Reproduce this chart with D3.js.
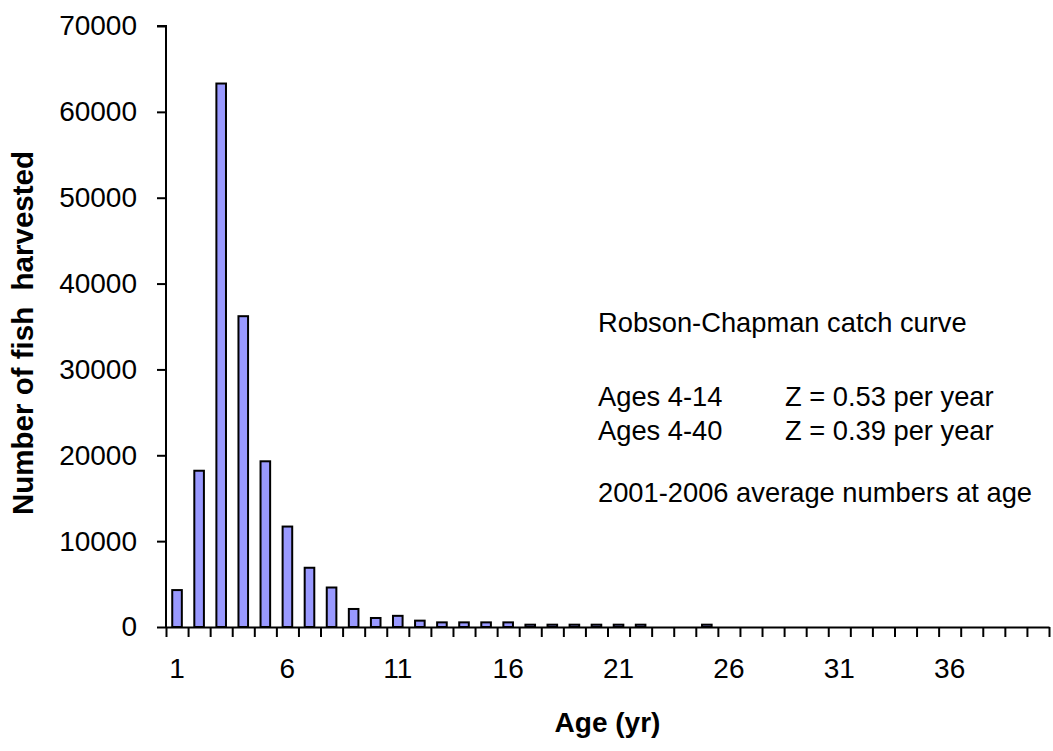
<!DOCTYPE html>
<html><head><meta charset="utf-8">
<script src="https://cdn.jsdelivr.net/npm/d3@7"></script>
<style>body{margin:0;background:#fff}svg{display:block}text{font-family:"Liberation Sans",Arial,sans-serif;fill:#000}</style>
</head><body><svg id="c" width="1053" height="751"></svg>
<script>
const ages = d3.range(1, 41);
const harvested = [4300,18200,63300,36200,19300,11700,6900,4600,2100,1050,
  1300,740,540,540,540,540,270,270,270,270,
  270,270,0,0,270,0,0,0,0,0,
  0,0,0,0,0,0,0,0,0,0];
const yTicks = [0,10000,20000,30000,40000,50000,60000,70000];
const xLabels = [1,6,11,16,21,26,31,36];
const notes = [
  {t:"Robson-Chapman catch curve", col:0, row:0},
  {t:"Ages 4-14", col:0, row:1},
  {t:"Z = 0.53 per year", col:1, row:1},
  {t:"Ages 4-40", col:0, row:2},
  {t:"Z = 0.39 per year", col:1, row:2},
  {t:"2001-2006 average numbers at age", col:0, row:3}
];

const svg = d3.select("#c");
const L = 166, R = 1049, T = 26, B = 627;
const y = d3.scaleLinear().domain([0,70000]).range([B,T]);
const x = d3.scaleBand().domain(ages).range([L,R]).paddingInner(0.565).paddingOuter(0.2825);
const xb = d3.scaleLinear().domain([0.5,40.5]).range([L,R]);

// bars
svg.append("g").selectAll("rect").data(ages.map((a,i)=>({a,v:harvested[i]})).filter(d=>d.v>0))
  .join("rect")
  .attr("x", d=>x(d.a)).attr("width", x.bandwidth())
  .attr("y", d=>y(d.v)).attr("height", d=>B-y(d.v))
  .attr("fill","#9999FF").attr("stroke","#000").attr("stroke-width",2);

// y axis
const ya = svg.append("g").attr("transform",`translate(${L},0)`)
  .call(d3.axisLeft(y).tickValues(yTicks).tickFormat(d3.format("d")).tickSize(9).tickPadding(20));
ya.select(".domain").attr("stroke-width",2).attr("d",`M-9,${T}H0V${B}`);
ya.selectAll(".tick line").attr("stroke-width",2);
ya.selectAll("text").style("font-size","28px").style("font-family","'Liberation Sans',Arial,sans-serif").attr("fill","#000");

// x axis
const xa = svg.append("g").attr("transform",`translate(0,${B})`)
  .call(d3.axisBottom(xb).tickValues(d3.range(0.5,41,1)).tickFormat("").tickSize(10).tickSizeOuter(0));
xa.select(".domain").attr("stroke-width",2);
xa.selectAll(".tick line").attr("stroke-width",2);

svg.append("g").selectAll("text").data(xLabels).join("text")
  .attr("x", d=>x(d)+x.bandwidth()/2).attr("y", 678)
  .attr("text-anchor","middle").style("font-size","28px").text(d=>d);

// titles
svg.append("text").attr("x",(L+R)/2).attr("y",732).attr("text-anchor","middle")
  .style("font-size","28px").style("font-weight","bold").text("Age (yr)");
svg.append("text").attr("transform","translate(33,333) rotate(-90)").attr("text-anchor","middle")
  .style("font-size","29.5px").style("font-weight","bold")
  .style("white-space","pre")
  .text("Number of fish  harvested");

// annotations
const rowY = [332, 406, 440, 502];
const colX = [598, 785];
svg.append("g").selectAll("text").data(notes).join("text")
  .attr("x", d=>colX[d.col]).attr("y", d=>rowY[d.row])
  .style("font-size","27.3px").text(d=>d.t);
</script></body></html>
